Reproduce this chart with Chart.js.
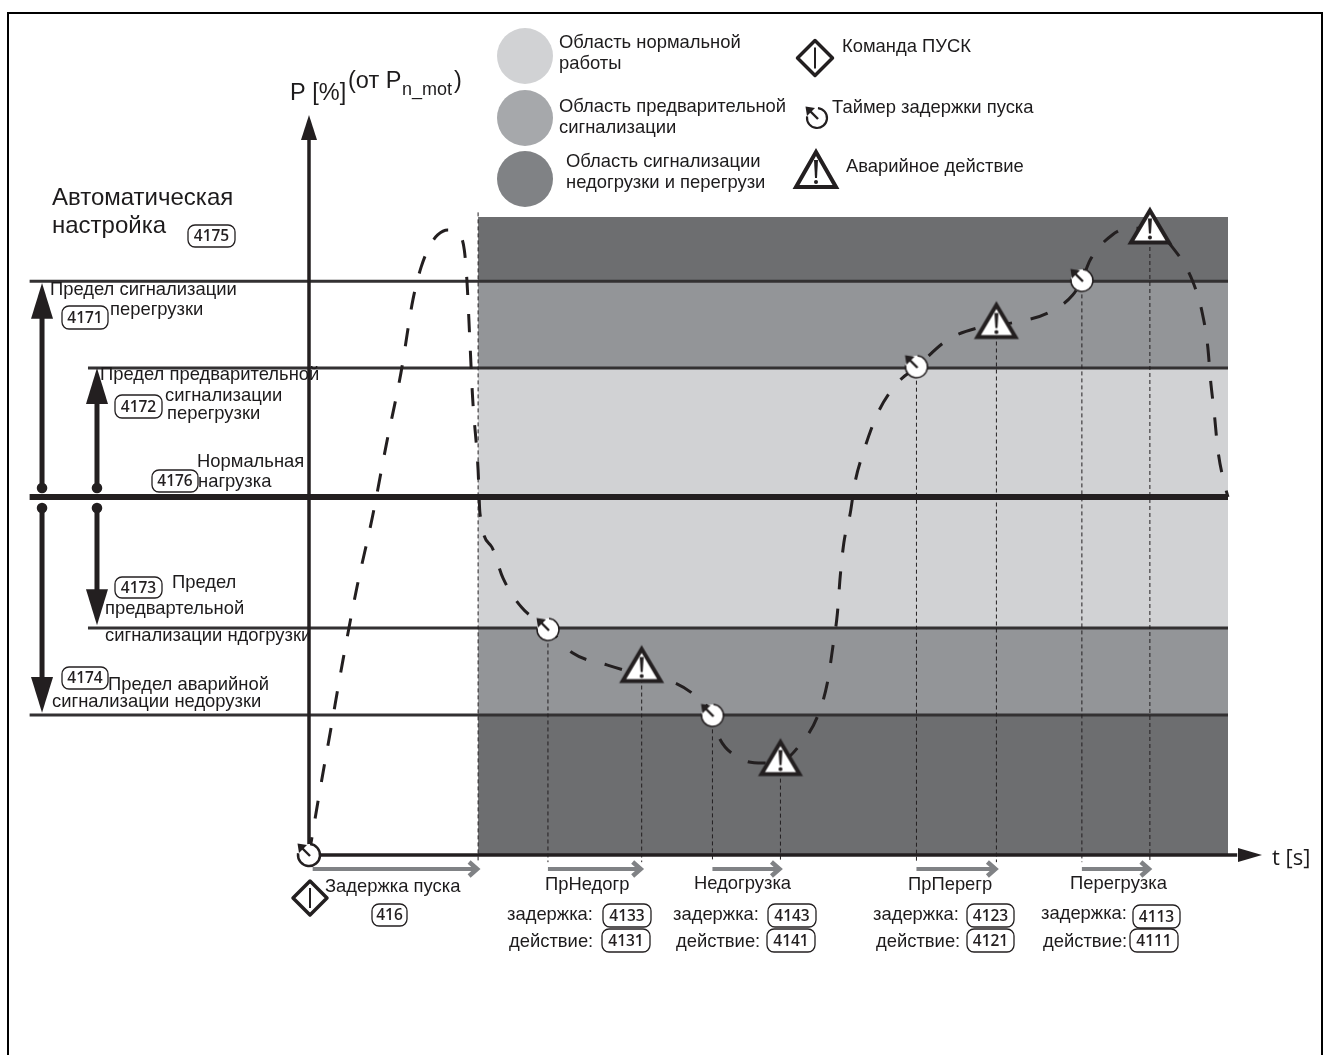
<!DOCTYPE html>
<html lang="ru">
<head>
<meta charset="utf-8">
<title>Автоматическая настройка</title>
<script src="https://cdn.jsdelivr.net/npm/chart.js@4/dist/chart.umd.min.js"></script>
<style>
    html, body { margin: 0; padding: 0; background: #fff; }
    canvas { display: block; }
</style>
</head>
<body>
<canvas id="loadChart" width="1323" height="1055"></canvas>
<script>
// Load curve: time (0..100) and power in % of normal load
const curveT = [0, 1.1, 2.3, 3.7, 5.2, 6.9, 8.4, 10.0, 11.3, 12.2, 13.2, 14.0, 15.1, 16.2, 16.9, 17.2, 17.5, 17.8, 18.4, 18.6, 19.9, 21.1, 23.2, 26.0, 28.7, 32.4, 36.2, 39.6, 42.2, 43.9, 44.4, 46.6, 49.4, 51.3, 53.4, 55.3, 56.4, 57.0, 57.5, 57.8, 58.2, 58.9, 59.4, 60.3, 61.9, 64.0, 66.1, 69.5, 72.7, 74.8, 77.0, 80.4, 83.1, 84.1, 85.0, 87.4, 89.3, 91.5, 94.0, 96.1, 97.2, 97.8, 98.1, 98.5, 98.9, 99.7, 100];
const curveP = [0, 16.8, 34.1, 54.5, 74.6, 94.4, 114.5, 134.6, 155.0, 164.2, 170.4, 173.2, 174.6, 173.5, 169.0, 159.8, 143.9, 127.9, 107.5, 95.5, 86.0, 77.4, 69.0, 63.4, 56.4, 53.1, 50.3, 48.3, 44.1, 38.8, 34.1, 27.4, 25.7, 26.0, 30.7, 38.5, 48.0, 58.1, 67.6, 77.7, 87.2, 95.5, 103.9, 112.3, 123.5, 131.8, 136.3, 143.9, 147.2, 148.0, 148.9, 151.4, 156.4, 160.6, 166.2, 173.2, 175.1, 175.1, 169.6, 160.6, 151.4, 141.9, 132.7, 123.5, 113.1, 102.8, 100];

// Limit levels
const levelOverAlarm = 160.3;
const levelOverPre = 136;
const levelNormal = 100;
const levelUnderPre = 63.4;
const levelUnderAlarm = 39.1;
const levelTop = 178.2;

// Bands right of the start delay: [upper, lower]
const bandUpper = [levelTop, levelOverAlarm, levelOverPre, levelUnderPre, levelUnderAlarm];
const bandLower = [levelOverAlarm, levelOverPre, levelUnderPre, levelUnderAlarm, 0];
const bandColors = ['#6d6e70', '#939598', '#d1d2d4', '#939598', '#6d6e70'];

// Events
const startDelayT = 18.4;
const timerT = [26.0, 43.9, 66.1, 84.1];
const timerP = [63.0, 39.0, 136.4, 160.5];
const alarmT = [36.2, 51.3, 74.8, 91.5];
const alarmP = [53.2, 27.2, 149.3, 175.7];

// Limit arrows left of the P axis
const spanT = [-29.05, -23.07];
const spanTopP = [159.8, 136];
const spanBottomP = [39.7, 64.2];
const spanDotUpP = 102.5;
const spanDotLowP = 96.9;

// Grey delay arrows under the t axis
const delayStartT = [0.4, 26.0, 43.9, 66.1, 84.1];
const delayEndT = [18.4, 36.2, 51.3, 74.8, 91.5];
const delayP = -3.9;

// Vertical dotted lines
const guideT = timerT.concat(alarmT);
const guideTopP = timerP.concat(alarmP);
const guideBottomP = -2;

// Scale of the drawing
const pxPerT = 9.19;
const pxPerP = 3.58;
const originX = 309;
const originY = 855;
const canvasW = 1323;
const canvasH = 1055;
const ink = '#231f20';
const textSize = 18.4;

function lineSet(xs, ys, width, color, order, dash) {
    return {
        type: 'line',
        data: xs.map((x, i) => ({ x: x, y: ys[i] })),
        borderColor: color,
        borderWidth: width,
        borderDash: dash || [],
        pointRadius: 0,
        fill: false,
        order: order
    };
}

// Icons used as point styles
function timerIcon(lineW) {
    const c = document.createElement('canvas');
    c.width = 34; c.height = 34;
    drawTimer(c.getContext('2d'), 17, 17, 11, lineW, true);
    return c;
}

function drawTimer(ctx, x, y, r, lineW, filled) {
    ctx.save();
    if (filled) {
        ctx.fillStyle = '#fff';
        ctx.beginPath();
        ctx.arc(x, y, r, 0, Math.PI * 2);
        ctx.fill();
    }
    ctx.strokeStyle = ink;
    ctx.lineWidth = lineW;
    ctx.beginPath();
    ctx.arc(x, y, r, -Math.PI * 0.47, Math.PI * 1.05);
    ctx.stroke();
    // pointer
    ctx.lineWidth = 2.4;
    ctx.beginPath();
    ctx.moveTo(x + 1, y + 1);
    ctx.lineTo(x - 7, y - 7);
    ctx.stroke();
    ctx.fillStyle = ink;
    ctx.beginPath();
    ctx.moveTo(x - 11.5, y - 11.5);
    ctx.lineTo(x - 2, y - 10);
    ctx.lineTo(x - 10, y - 2);
    ctx.closePath();
    ctx.fill();
    ctx.restore();
}

function drawAlarm(ctx, x, y, w, h) {
    ctx.save();
    ctx.fillStyle = '#fff';
    ctx.strokeStyle = ink;
    ctx.lineWidth = 4;
    ctx.lineJoin = 'miter';
    ctx.beginPath();
    ctx.moveTo(x, y - h / 2 + 3);
    ctx.lineTo(x + w / 2 - 3, y + h / 2 - 2);
    ctx.lineTo(x - w / 2 + 3, y + h / 2 - 2);
    ctx.closePath();
    ctx.fill();
    ctx.stroke();
    ctx.fillStyle = ink;
    ctx.beginPath();
    ctx.moveTo(x - 2, y - h / 2 + 11);
    ctx.lineTo(x + 2, y - h / 2 + 11);
    ctx.lineTo(x + 1, y + h / 2 - 11);
    ctx.lineTo(x - 1, y + h / 2 - 11);
    ctx.closePath();
    ctx.fill();
    ctx.beginPath();
    ctx.arc(x, y + h / 2 - 7, 2, 0, Math.PI * 2);
    ctx.fill();
    ctx.restore();
}

function alarmIcon() {
    const c = document.createElement('canvas');
    c.width = 50; c.height = 44;
    drawAlarm(c.getContext('2d'), 25, 22, 44, 37);
    return c;
}

function drawDiamond(ctx, x, y, h) {
    ctx.save();
    ctx.fillStyle = '#fff';
    ctx.strokeStyle = ink;
    ctx.lineWidth = 3.5;
    ctx.lineJoin = 'round';
    ctx.beginPath();
    ctx.moveTo(x, y - h);
    ctx.lineTo(x + h, y);
    ctx.lineTo(x, y + h);
    ctx.lineTo(x - h, y);
    ctx.closePath();
    ctx.fill();
    ctx.stroke();
    ctx.lineWidth = 2;
    ctx.beginPath();
    ctx.moveTo(x, y - h + 7);
    ctx.lineTo(x, y + h - 7);
    ctx.stroke();
    ctx.restore();
}

// Parameter tag with rounded corners
function tag(ctx, text, x1, y1, x2, y2) {
    ctx.save();
    ctx.fillStyle = '#fff';
    ctx.strokeStyle = ink;
    ctx.lineWidth = 1.3;
    ctx.beginPath();
    ctx.roundRect(x1, y1, x2 - x1, y2 - y1, 7);
    ctx.fill();
    ctx.stroke();
    ctx.fillStyle = ink;
    ctx.font = '600 15.5px "Open Sans"';
    ctx.textAlign = 'center';
    ctx.textBaseline = 'middle';
    ctx.fillText(text, (x1 + x2) / 2, (y1 + y2) / 2 + 1);
    ctx.restore();
}

function label(ctx, text, x, y, size, family) {
    ctx.fillStyle = '#1d1b1c';
    ctx.font = (size || textSize) + 'px ' + (family || '"Liberation Sans"');
    ctx.textAlign = 'left';
    ctx.textBaseline = 'alphabetic';
    ctx.fillText(text, x, y);
}

function solidHead(ctx, tipX, tipY, baseX, baseY, halfW) {
    const dx = baseX - tipX, dy = baseY - tipY;
    const len = Math.hypot(dx, dy);
    const nx = -dy / len * halfW, ny = dx / len * halfW;
    ctx.fillStyle = ink;
    ctx.beginPath();
    ctx.moveTo(tipX, tipY);
    ctx.lineTo(baseX + nx, baseY + ny);
    ctx.lineTo(baseX - nx, baseY - ny);
    ctx.closePath();
    ctx.fill();
}

// Everything that is not a data mark: frame, legend, labels, arrow heads
const diagramPlugin = {
    id: 'diagram',
    beforeDraw(chart) {
        const ctx = chart.ctx;
        ctx.save();
        ctx.strokeStyle = '#000';
        ctx.lineWidth = 2;
        ctx.beginPath();
        ctx.moveTo(8, canvasH);
        ctx.lineTo(8, 13);
        ctx.lineTo(1322, 13);
        ctx.lineTo(1322, canvasH);
        ctx.stroke();
        ctx.restore();
    },
    afterDatasetsDraw(chart) {
        const ctx = chart.ctx;
        const xs = chart.scales.x, ys = chart.scales.y;
        ctx.save();

        // Legend circles
        [['#d1d2d4', 56], ['#a6a8ab', 118], ['#808285', 179]].forEach(([color, cy]) => {
            ctx.fillStyle = color;
            ctx.beginPath();
            ctx.arc(525, cy, 28, 0, Math.PI * 2);
            ctx.fill();
        });
        label(ctx, 'Область нормальной', 559, 48);
        label(ctx, 'работы', 559, 69);
        label(ctx, 'Область предварительной', 559, 112);
        label(ctx, 'сигнализации', 559, 133);
        label(ctx, 'Область сигнализации', 566, 167);
        label(ctx, 'недогрузки и перегрузи', 566, 188);
        drawDiamond(ctx, 815, 58, 17.5);
        label(ctx, 'Команда ПУСК', 842, 52);
        drawTimer(ctx, 817, 118, 10, 2.2, false);
        label(ctx, 'Таймер задержки пуска', 832, 113);
        drawAlarm(ctx, 816, 169, 46, 40);
        label(ctx, 'Аварийное действие', 846, 172);

        // Axis titles
        label(ctx, 'P [%]', 290, 100, 23.5);
        label(ctx, '(от P', 348, 88, 23.5);
        label(ctx, 'n_mot', 402, 95, 18);
        label(ctx, ')', 454, 88, 23.5);
        label(ctx, 't [s]', 1272, 865, 22, '"Open Sans"');

        // Left block
        label(ctx, 'Автоматическая', 52, 205, 24);
        label(ctx, 'настройка', 52, 233, 24);
        tag(ctx, '4175', 188, 225, 235, 247);
        label(ctx, 'Предел сигнализации', 50, 295);
        label(ctx, 'перегрузки', 110, 315);
        tag(ctx, '4171', 62, 306, 108, 329);
        label(ctx, 'Предел предварительной', 100, 380);
        label(ctx, 'сигнализации', 165, 401);
        label(ctx, 'перегрузки', 167, 419);
        tag(ctx, '4172', 115, 395, 162, 418);
        label(ctx, 'Нормальная', 197, 467);
        label(ctx, 'нагрузка', 198, 487);
        tag(ctx, '4176', 152, 470, 198, 492);
        label(ctx, 'Предел', 172, 588);
        label(ctx, 'предвартельной', 105, 614);
        label(ctx, 'сигнализации ндогрузки', 105, 641);
        tag(ctx, '4173', 115, 577, 162, 598);
        label(ctx, 'Предел аварийной', 108, 690);
        label(ctx, 'сигнализации недорузки', 52, 707);
        tag(ctx, '4174', 62, 667, 108, 689);

        // Bottom block
        drawDiamond(ctx, 310, 898, 17);
        label(ctx, 'Задержка пуска', 325, 892);
        tag(ctx, '416', 372, 904, 407, 926);
        label(ctx, 'ПрНедогр', 545, 890);
        label(ctx, 'задержка:', 507, 920);
        tag(ctx, '4133', 603, 904, 651, 927);
        label(ctx, 'действие:', 509, 947);
        tag(ctx, '4131', 602, 929, 650, 952);
        label(ctx, 'Недогрузка', 694, 889);
        label(ctx, 'задержка:', 673, 920);
        tag(ctx, '4143', 768, 904, 816, 927);
        label(ctx, 'действие:', 676, 947);
        tag(ctx, '4141', 767, 929, 815, 952);
        label(ctx, 'ПрПерегр', 908, 890);
        label(ctx, 'задержка:', 873, 920);
        tag(ctx, '4123', 967, 904, 1014, 927);
        label(ctx, 'действие:', 876, 947);
        tag(ctx, '4121', 967, 929, 1014, 952);
        label(ctx, 'Перегрузка', 1070, 889);
        label(ctx, 'задержка:', 1041, 919);
        tag(ctx, '4113', 1133, 905, 1180, 928);
        label(ctx, 'действие:', 1043, 947);
        tag(ctx, '4111', 1130, 929, 1178, 952);

        // Axis heads
        const axisX = xs.getPixelForValue(0);
        solidHead(ctx, axisX, 115, axisX, 140, 8);
        solidHead(ctx, 1262, originY, 1238, originY, 7);

        // Heads and dots of the limit arrows
        spanT.forEach((t, i) => {
            const px = xs.getPixelForValue(t);
            solidHead(ctx, px, ys.getPixelForValue(spanTopP[i]), px, ys.getPixelForValue(spanTopP[i] - 10), 11);
            solidHead(ctx, px, ys.getPixelForValue(spanBottomP[i]), px, ys.getPixelForValue(spanBottomP[i] + 10), 11);
            [spanDotUpP, spanDotLowP].forEach(p => {
                ctx.fillStyle = ink;
                ctx.beginPath();
                ctx.arc(px, ys.getPixelForValue(p), 5.3, 0, Math.PI * 2);
                ctx.fill();
            });
        });

        // Grey delay arrow heads
        delayEndT.forEach(t => {
            const px = xs.getPixelForValue(t) - 1;
            const py = ys.getPixelForValue(delayP);
            ctx.strokeStyle = '#808285';
            ctx.lineWidth = 4.5;
            ctx.lineJoin = 'miter';
            ctx.beginPath();
            ctx.moveTo(px - 8, py - 7);
            ctx.lineTo(px, py);
            ctx.lineTo(px - 8, py + 7);
            ctx.stroke();
        });
        ctx.restore();
    }
};

const datasets = [];

bandUpper.forEach((hi, i) => {
    datasets.push({
        type: 'line',
        data: [{ x: startDelayT, y: hi }, { x: 100, y: hi }],
        borderWidth: 0,
        pointRadius: 0,
        backgroundColor: bandColors[i],
        fill: { value: bandLower[i] },
        order: 20
    });
});

datasets.push(lineSet([-30.4, 100], [levelOverAlarm, levelOverAlarm], 3, '#333132', 15));
datasets.push(lineSet([-24.05, 100], [levelOverPre, levelOverPre], 3, '#333132', 15));
datasets.push(lineSet([-30.4, 100], [levelNormal, levelNormal], 6, ink, 15));
datasets.push(lineSet([-24.05, 100], [levelUnderPre, levelUnderPre], 3, '#333132', 15));
datasets.push(lineSet([-30.4, 100], [levelUnderAlarm, levelUnderAlarm], 3, '#333132', 15));

datasets.push(lineSet([startDelayT, startDelayT], [179.5, guideBottomP], 1, ink, 14, [4, 3]));
guideT.forEach((t, i) => {
    datasets.push(lineSet([t, t], [guideTopP[i], guideBottomP], 1, ink, 14, [4, 3]));
});

// Axes
datasets.push(lineSet([0, 0], [2, 200], 3.5, ink, 12));
datasets.push(lineSet([0, 101], [0, 0], 3.5, ink, 12));

// Limit arrow shafts
spanT.forEach((t, i) => {
    datasets.push(lineSet([t, t], [spanTopP[i] - 9, spanDotUpP], 5, ink, 11));
    datasets.push(lineSet([t, t], [spanDotLowP, spanBottomP[i] + 9], 5, ink, 11));
});

delayStartT.forEach((t, i) => {
    datasets.push(lineSet([t, delayEndT[i] - 0.2], [delayP, delayP], 4, '#808285', 11));
});

// Load curve
const curveSet = lineSet(curveT, curveP, 3, ink, 6, [18, 19]);
curveSet.cubicInterpolationMode = 'monotone';
datasets.push(curveSet);

// Event markers
datasets.push({
    type: 'scatter',
    data: timerT.map((t, i) => ({ x: t, y: timerP[i] })),
    pointStyle: timerIcon(1.5),
    pointRadius: 12,
    showLine: false,
    order: 2
});
datasets.push({
    type: 'scatter',
    data: alarmT.map((t, i) => ({ x: t, y: alarmP[i] })),
    pointStyle: alarmIcon(),
    pointRadius: 12,
    showLine: false,
    order: 2
});
datasets.push({
    type: 'scatter',
    data: [{ x: 0, y: 0 }],
    pointStyle: timerIcon(2.5),
    pointRadius: 12,
    showLine: false,
    order: 2
});

new Chart(document.getElementById('loadChart').getContext('2d'), {
    data: { datasets: datasets },
    options: {
        responsive: false,
        animation: false,
        layout: { padding: 0, autoPadding: false },
        plugins: { legend: { display: false }, tooltip: { enabled: false } },
        scales: {
            x: {
                type: 'linear',
                display: false,
                min: -originX / pxPerT,
                max: (canvasW - originX) / pxPerT
            },
            y: {
                type: 'linear',
                display: false,
                min: -(canvasH - originY) / pxPerP,
                max: originY / pxPerP
            }
        }
    },
    plugins: [diagramPlugin]
});
</script>
</body>
</html>
